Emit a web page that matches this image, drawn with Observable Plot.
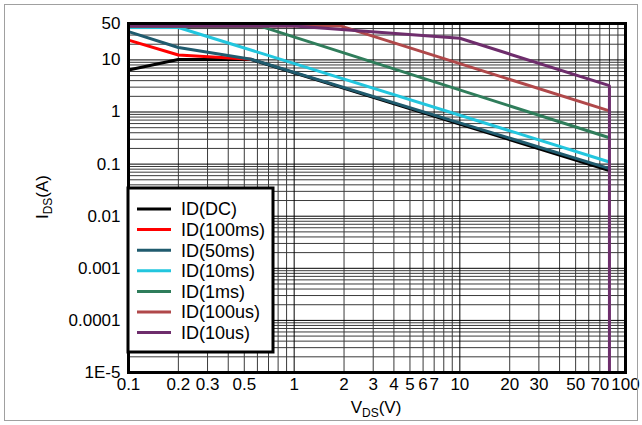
<!DOCTYPE html>
<html>
<head>
<meta charset="utf-8">
<script src="https://cdn.jsdelivr.net/npm/d3@7"></script>
<script src="https://cdn.jsdelivr.net/npm/@observablehq/plot@0.6"></script>
<style>
  html, body { margin: 0; padding: 0; background: #fff; }
  #chart { width: 642px; height: 425px; }
</style>
</head>
<body>
<div id="chart"></div>
<script>
// Safe operating area curves: drain current vs drain-source voltage
const seriesNames = ["ID(DC)", "ID(100ms)", "ID(50ms)", "ID(10ms)", "ID(1ms)", "ID(100us)", "ID(10us)"];
const seriesColors = ["#000000", "#ff0000", "#205b6e", "#22c6de", "#2f7d5b", "#b0484a", "#6e2d6c"];

const dcV = [0.1, 0.2, 0.55, 80];
const dcI = [6.4, 10.2, 10.2, 0.075];
const ms100V = [0.1, 0.2, 0.55];
const ms100I = [24, 12.4, 10.3];
const ms50V = [0.1, 0.2, 0.55, 80];
const ms50I = [35, 17.3, 10.3, 0.082];
const ms10V = [0.1, 0.2, 80];
const ms10I = [42, 42, 0.11];
const ms1V = [0.1, 0.63, 80];
const ms1I = [44, 44, 0.32];
const us100V = [0.1, 1.9, 80];
const us100I = [45, 45, 1.05];
const us10V = [0.1, 1, 10, 80, 80];
const us10I = [45, 45, 26, 3.2, 0.00001];

const seriesV = [dcV, ms100V, ms50V, ms10V, ms1V, us100V, us10V];
const seriesI = [dcI, ms100I, ms50I, ms10I, ms1I, us100I, us10I];

// Axis ticks and their printed labels
const xTicks = [0.1, 0.2, 0.3, 0.5, 1, 2, 3, 4, 5, 6, 7, 10, 20, 30, 50, 70, 100];
const xTickLabels = ["0.1", "0.2", "0.3", "0.5", "1", "2", "3", "4", "5", "6", "7", "10", "20", "30", "50", "70", "100"];
const yTicks = [0.00001, 0.0001, 0.001, 0.01, 0.1, 1, 10, 50];
const yTickLabels = ["1E-5", "0.0001", "0.001", "0.01", "0.1", "1", "10", "50"];

// Log grid: 1..9 times each decade
const xDecades = [0.1, 1, 10];
const yDecades = [0.00001, 0.0001, 0.001, 0.01, 0.1, 1, 10];
const mults = [2, 3, 4, 5, 6, 7, 8, 9];
const xGridMajor = [...xDecades, 100];
const xGridMinor = xDecades.flatMap(d => mults.map(m => +(d * m).toPrecision(3)));
const yGridMajor = yDecades;
const yGridMinor = yDecades.flatMap(d => mults.map(m => +(d * m).toPrecision(3))).filter(v => v <= 50);

const rows = seriesNames.flatMap((name, s) =>
  seriesV[s].map((v, k) => ({series: name, v, i: seriesI[s][k]}))
);

const font = "'Liberation Sans', Arial, sans-serif";

const chart = Plot.plot({
  width: 642,
  height: 425,
  marginLeft: 128,
  marginRight: 17,
  marginTop: 23,
  marginBottom: 53,
  style: {fontFamily: font, fontSize: "17px", background: "white", color: "#000"},
  x: {type: "log", domain: [0.1, 100], axis: null},
  y: {type: "log", domain: [0.00001, 50], axis: null},
  marks: [
    Plot.ruleX(xGridMinor, {stroke: "#3a3a3a", strokeWidth: 1}),
    Plot.ruleY(yGridMinor, {stroke: "#3a3a3a", strokeWidth: 1}),
    Plot.ruleX(xGridMajor, {stroke: "#000", strokeWidth: 1}),
    Plot.ruleY(yGridMajor, {stroke: "#000", strokeWidth: 1}),
    // tick labels
    Plot.text(xTicks, {x: d => d, text: (d, i) => xTickLabels[i], frameAnchor: "bottom", dy: 17, fontSize: 17, fill: "#000"}),
    Plot.text(yTicks, {y: d => d, text: (d, i) => yTickLabels[i], frameAnchor: "left", textAnchor: "end", dx: -8, fontSize: 17, fill: "#000"}),
    ...seriesNames.map((name, s) =>
      Plot.line(rows.filter(r => r.series === name), {
        x: "v", y: "i", stroke: seriesColors[s], strokeWidth: 3, strokeLinejoin: "miter"
      })
    ),
    Plot.frame({stroke: "#000", strokeWidth: 3})
  ]
});

document.getElementById("chart").appendChild(chart);

const svg = d3.select(chart);

// Outer border
svg.append("rect")
  .attr("x", 4.5).attr("y", 4.5).attr("width", 633).attr("height", 416)
  .attr("fill", "none").attr("stroke", "#a0a0a0").attr("stroke-width", 1);

// Axis titles with subscripts
const xt = svg.append("text")
  .attr("x", 376).attr("y", 413).attr("text-anchor", "middle")
  .attr("font-family", font).attr("font-size", 17).attr("fill", "#000");
xt.append("tspan").text("V");
xt.append("tspan").attr("font-size", 12).attr("dy", 4).text("DS");
xt.append("tspan").attr("dy", -4).text("(V)");

const yt = svg.append("text")
  .attr("transform", "translate(48,197) rotate(-90)").attr("text-anchor", "middle")
  .attr("font-family", font).attr("font-size", 17).attr("fill", "#000");
yt.append("tspan").text("I");
yt.append("tspan").attr("font-size", 12).attr("dy", 4).text("DS");
yt.append("tspan").attr("dy", -4).text("(A)");

// Legend
const lg = svg.append("g");
lg.append("rect")
  .attr("x", 128).attr("y", 188).attr("width", 145).attr("height", 164)
  .attr("fill", "#fff").attr("stroke", "#000").attr("stroke-width", 3);
seriesNames.forEach((name, s) => {
  const yy = 209 + s * 20.6;
  lg.append("line")
    .attr("x1", 137).attr("x2", 171).attr("y1", yy).attr("y2", yy)
    .attr("stroke", seriesColors[s]).attr("stroke-width", 3);
  lg.append("text")
    .attr("x", 181).attr("y", yy).attr("dy", "0.35em").attr("text-anchor", "start")
    .attr("font-family", font).attr("font-size", 18).attr("fill", "#000")
    .text(name);
});
</script>
</body>
</html>
